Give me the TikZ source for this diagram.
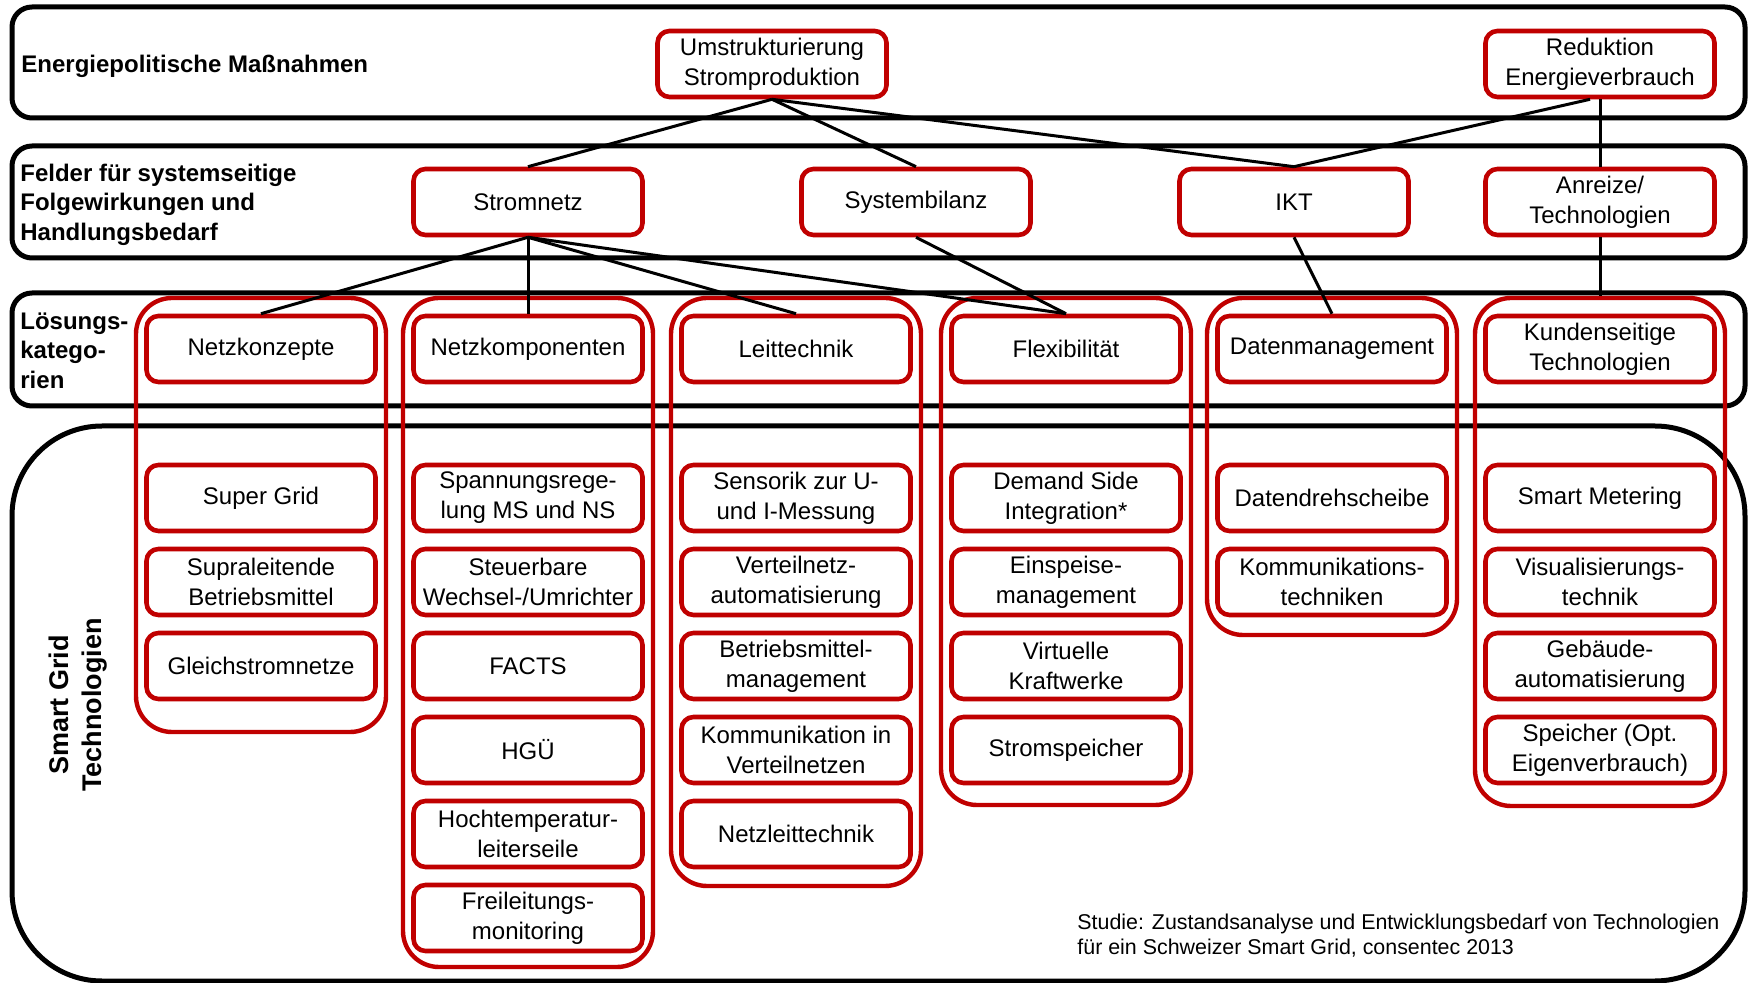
\documentclass[tikz,border=0pt]{standalone}
\usepackage{fontspec}
\setmainfont{Liberation Sans}
\definecolor{boxred}{RGB}{192,0,0}
\begin{document}
\begin{tikzpicture}[x=0.5pt,y=-0.5pt,
  band/.style={draw=black, line width=2.5pt, rounded corners=10pt, fill=white, inner sep=0pt, minimum width=866.5pt},
  grp/.style={draw=boxred, line width=2.2pt, rounded corners=18pt, minimum width=125pt, inner sep=0pt},
  box/.style={draw=boxred, line width=2.3pt, rounded corners=6pt, fill=white, minimum width=114.5pt, minimum height=33pt, inner sep=0pt, align=center, font=\fontsize{12}{15}\selectfont},
  lbl/.style={anchor=west, inner sep=0pt, align=left, font=\bfseries\fontsize{12}{14.8}\selectfont},
  link/.style={draw=black, line width=1.5pt}]
\useasboundingbox (0,0) rectangle (1752,983);

% horizontal bands
\node[band, minimum height=55.5pt] (b1) at (878.5,62.5) {};
\node[band, minimum height=56pt] (b2) at (878.5,202) {};
\node[band, minimum height=56.5pt] (b3) at (878.5,349.5) {};
\node[band, minimum height=277.5pt, rounded corners=45pt] (b4) at (878.5,703.5) {};

% band labels
\node[lbl] (l1) at (21,66) {Energiepolitische Maßnahmen};
\node[lbl] (l2) at (20,204.5) {Felder für systemseitige\\Folgewirkungen und\\Handlungsbedarf};
\node[lbl] (l3) at (20,350.5) {Lösungs-\\katego-\\rien};
\node[inner sep=0pt, align=center, rotate=90, font=\bfseries\fontsize{13.5}{16.75}\selectfont] (l4) at (78,705) {Smart Grid\\Technologien};

% category groups
\node[grp, minimum height=217pt] (g1) at (261,515) {};
\node[grp, minimum height=334.5pt] (g2) at (528,632.5) {};
\node[grp, minimum height=294pt] (g3) at (796,592) {};
\node[grp, minimum height=253.5pt] (g4) at (1066,551.5) {};
\node[grp, minimum height=168.5pt] (g5) at (1332,466.5) {};
\node[grp, minimum height=254pt] (g6) at (1600,552) {};

% boxes of the upper two levels
\node[box] (U) at (772,64) {Umstrukturierung\\Stromproduktion};
\node[box] (R) at (1600,64) {Reduktion\\Energieverbrauch};
\node[box] (S) at (528,202) {Stromnetz};
\node[box] (B) at (916,202) {Systembilanz};
\node[box] (I) at (1294,202) {IKT};
\node[box] (A) at (1600,202) {Anreize/\\Technologien};

% solution categories
\node[box] (c1) at (261,349) {Netzkonzepte};
\node[box] (c2) at (528,349) {Netzkomponenten};
\node[box] (c3) at (796,349) {Leittechnik};
\node[box] (c4) at (1066,349) {Flexibilität};
\node[box] (c5) at (1332,349) {Datenmanagement};
\node[box] (c6) at (1600,349) {Kundenseitige\\Technologien};

% connectors
\draw[link] (U.south) -- (S.north);
\draw[link] (U.south) -- (B.north);
\draw[link] (U.south) -- (I.north);
\draw[link] ([xshift=-5pt]R.south) -- (I.north);
\draw[link] (R.south) -- (A.north);
\draw[link] (A.south) -- (g6.north);
\draw[link] (S.south) -- (c1.north);
\draw[link] (S.south) -- (c2.north);
\draw[link] (S.south) -- (c3.north);
\draw[link] (S.south) -- (c4.north);
\draw[link] (B.south) -- (c4.north);
\draw[link] (I.south) -- (c5.north);

% technologies
\node[box] (t11) at (261,498) {Super Grid};
\node[box] (t12) at (261,582) {Supraleitende\\Betriebsmittel};
\node[box] (t13) at (261,666) {Gleichstromnetze};

\node[box] (t21) at (528,498) {Spannungsrege-\\lung MS und NS};
\node[box] (t22) at (528,582) {Steuerbare\\Wechsel-/Umrichter};
\node[box] (t23) at (528,666) {FACTS};
\node[box] (t24) at (528,750) {HGÜ};
\node[box] (t25) at (528,834) {Hochtemperatur-\\leiterseile};
\node[box] (t26) at (528,918) {Freileitungs-\\monitoring};

\node[box] (t31) at (796,498) {Sensorik zur U-\\und I-Messung};
\node[box] (t32) at (796,582) {Verteilnetz-\\automatisierung};
\node[box] (t33) at (796,666) {Betriebsmittel-\\management};
\node[box] (t34) at (796,750) {Kommunikation in\\Verteilnetzen};
\node[box] (t35) at (796,834) {Netzleittechnik};

\node[box] (t41) at (1066,498) {Demand Side\\Integration*};
\node[box] (t42) at (1066,582) {Einspeise-\\management};
\node[box] (t43) at (1066,666) {Virtuelle\\Kraftwerke};
\node[box] (t44) at (1066,750) {Stromspeicher};

\node[box] (t51) at (1332,498) {Datendrehscheibe};
\node[box] (t52) at (1332,582) {Kommunikations-\\techniken};

\node[box] (t61) at (1600,498) {Smart Metering};
\node[box] (t62) at (1600,582) {Visualisierungs-\\technik};
\node[box] (t63) at (1600,666) {Gebäude-\\automatisierung};
\node[box] (t64) at (1600,750) {Speicher (Opt.\\Eigenverbrauch)};

% source note
\node[anchor=west, inner sep=0pt, align=left, font=\fontsize{10.7}{12.5}\selectfont] (src) at (1077,935.5)
  {Studie: Zustandsanalyse und Entwicklungsbedarf von Technologien\\für ein Schweizer Smart Grid, consentec 2013};
\end{tikzpicture}
\end{document}
